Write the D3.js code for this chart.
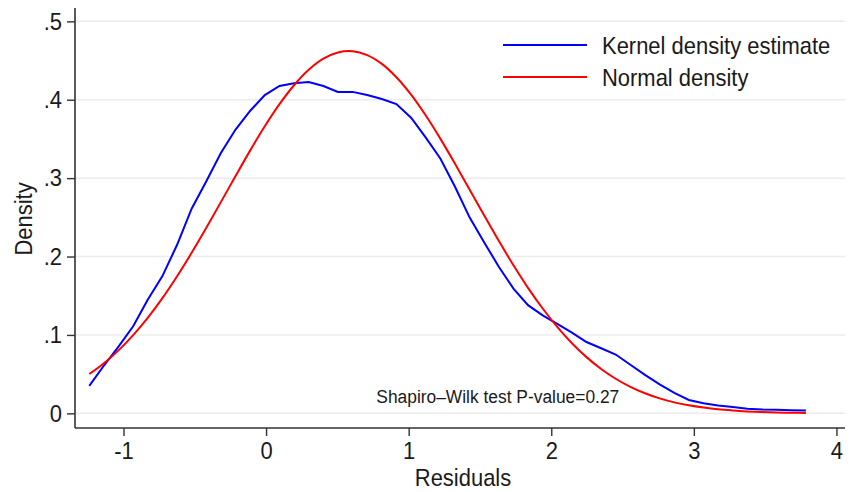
<!DOCTYPE html>
<html>
<head>
<meta charset="utf-8">
<script src="https://cdn.jsdelivr.net/npm/d3@7"></script>
<style>
  body { margin: 0; background: #fff; }
  text { font-family: Arial, "Liberation Sans", sans-serif; fill: #1a1a1a; }
</style>
</head>
<body>
<div id="chart"></div>
<script>
// evaluation grid (50 points, min to max of residuals)
const gridX = [-1.240, -1.137, -1.035, -0.932, -0.830, -0.727, -0.624, -0.522, -0.419, -0.317,
               -0.214, -0.111, -0.009, 0.094, 0.196, 0.299, 0.402, 0.504, 0.607, 0.709,
               0.812, 0.914, 1.017, 1.119, 1.222, 1.325, 1.427, 1.530, 1.632, 1.735,
               1.837, 1.940, 2.042, 2.145, 2.247, 2.350, 2.452, 2.555, 2.657, 2.760,
               2.863, 2.965, 3.068, 3.170, 3.273, 3.375, 3.478, 3.580, 3.683, 3.786];

// kernel density estimate
const kernelY = [0.035, 0.061, 0.085, 0.111, 0.145, 0.175, 0.215, 0.261, 0.296, 0.332,
                 0.362, 0.386, 0.406, 0.4175, 0.421, 0.4225, 0.4175, 0.410, 0.410, 0.406,
                 0.401, 0.3945, 0.377, 0.352, 0.325, 0.289, 0.250, 0.218, 0.187, 0.159,
                 0.138, 0.125, 0.114, 0.103, 0.091, 0.083, 0.075, 0.062, 0.049, 0.037,
                 0.026, 0.017, 0.013, 0.010, 0.008, 0.006, 0.005, 0.0045, 0.004, 0.0035];

// normal density
const normalY = [0.0501, 0.0640, 0.0803, 0.0998, 0.1218, 0.1469, 0.1748, 0.2047, 0.2366, 0.2694,
                 0.3027, 0.3354, 0.3661, 0.3943, 0.4185, 0.4382, 0.4523, 0.4602, 0.4618, 0.4569,
                 0.4457, 0.4287, 0.4065, 0.3802, 0.3504, 0.3184, 0.2856, 0.2523, 0.2200, 0.1889,
                 0.1601, 0.1337, 0.1102, 0.0894, 0.0717, 0.0566, 0.0441, 0.0338, 0.0256, 0.0191,
                 0.0140, 0.0102, 0.0073, 0.0051, 0.0036, 0.0025, 0.0017, 0.0011, 0.0007, 0.0005];

const xTicks = [-1, 0, 1, 2, 3, 4];
const yTicks = [0, 0.1, 0.2, 0.3, 0.4, 0.5];
const yTickLabels = ['0', '.1', '.2', '.3', '.4', '.5'];
const seriesNames = ['Kernel density estimate', 'Normal density'];
const seriesColors = ['#0000ff', '#ff0000'];
const noteText = 'Shapiro\u2013Wilk test P-value=0.27';
const notePos = [1.625, 0.0135];

const width = 851;
const height = 492;
const plotLeft = 75, plotRight = 845, plotTop = 8, plotBottom = 428;

const xScale = d3.scaleLinear().domain([-1.34, 4.06]).range([plotLeft, plotRight]);
const yScale = d3.scaleLinear().domain([-0.0187, 0.517]).range([plotBottom, plotTop]);

// the exported graph has slightly narrow lettering
function squeeze(sel, origin) {
    sel.style('transform-box', 'fill-box')
       .style('transform-origin', origin)
       .style('transform', 'scaleX(0.915)');
}

let svg = d3.select('#chart')
    .append('svg')
        .attr('width', width)
        .attr('height', height);

// gridlines
svg.append('g')
    .selectAll('line')
    .data(yTicks)
    .enter()
        .append('line')
            .attr('x1', plotLeft)
            .attr('x2', plotRight)
            .attr('y1', d => yScale(d))
            .attr('y2', d => yScale(d))
            .attr('stroke', '#ececec')
            .attr('stroke-width', 1.5);

// y-axis
let yAxis = svg.append('g')
    .attr('transform', `translate(${plotLeft}, 0)`)
    .call(d3.axisLeft(yScale)
        .tickValues(yTicks)
        .tickSize(8)
        .tickPadding(5)
        .tickFormat((d, i) => yTickLabels[i]));

// x-axis
let xAxis = svg.append('g')
    .attr('transform', `translate(0, ${plotBottom})`)
    .call(d3.axisBottom(xScale)
        .tickValues(xTicks)
        .tickSize(8)
        .tickPadding(6)
        .tickFormat(d => String(d)));

[yAxis, xAxis].forEach(ax => {
    ax.select('.domain').attr('stroke', '#333').attr('stroke-width', 1.6);
    ax.selectAll('.tick line').attr('stroke', '#333').attr('stroke-width', 1.4);
    ax.selectAll('.tick text').attr('font-size', 24).attr('fill', '#1a1a1a')
        .style('font-family', 'Arial, "Liberation Sans", sans-serif');
});
squeeze(yAxis.selectAll('.tick text'), 'right center');
squeeze(xAxis.selectAll('.tick text'), 'center');
// domain path has outer ticks of 8 too, redraw plain lines
yAxis.select('.domain').attr('d', `M0,${plotTop}V${plotBottom}`);
xAxis.select('.domain').attr('d', `M${plotLeft},0H${plotRight}`);

// axis titles
svg.append('g')
    .attr('transform', `translate(32, 219) rotate(-90)`)
    .append('text')
        .attr('text-anchor', 'middle')
        .attr('font-size', 24)
        .text('Density')
        .call(squeeze, 'center');

svg.append('text')
    .attr('x', 463)
    .attr('y', 486)
    .attr('text-anchor', 'middle')
    .attr('font-size', 24)
    .text('Residuals')
    .call(squeeze, 'center');

// curves
const kernelLine = d3.line()
    .x((d, i) => xScale(gridX[i]))
    .y(d => yScale(d));

const normalLine = d3.line()
    .x((d, i) => xScale(gridX[i]))
    .y(d => yScale(d))
    .curve(d3.curveCatmullRom);

svg.append('path')
    .datum(kernelY)
    .attr('d', kernelLine)
    .attr('fill', 'none')
    .attr('stroke', seriesColors[0])
    .attr('stroke-width', 2);

svg.append('path')
    .datum(normalY)
    .attr('d', normalLine)
    .attr('fill', 'none')
    .attr('stroke', seriesColors[1])
    .attr('stroke-width', 2);

// note
svg.append('text')
    .attr('x', xScale(notePos[0]))
    .attr('y', yScale(notePos[1]))
    .attr('text-anchor', 'middle')
    .attr('font-size', 19)
    .text(noteText)
    .call(squeeze, 'center');

// legend
let legend = svg.append('g')
    .selectAll('g')
    .data(seriesNames)
    .enter()
        .append('g')
            .attr('transform', (d, i) => `translate(503, ${45 + i * 32})`);

legend.append('line')
    .attr('x1', 0)
    .attr('x2', 84)
    .attr('stroke', (d, i) => seriesColors[i])
    .attr('stroke-width', 2);

legend.append('text')
    .attr('x', 99)
    .attr('y', 9)
    .attr('font-size', 24)
    .text(d => d)
    .call(squeeze, 'left center');
</script>
</body>
</html>
